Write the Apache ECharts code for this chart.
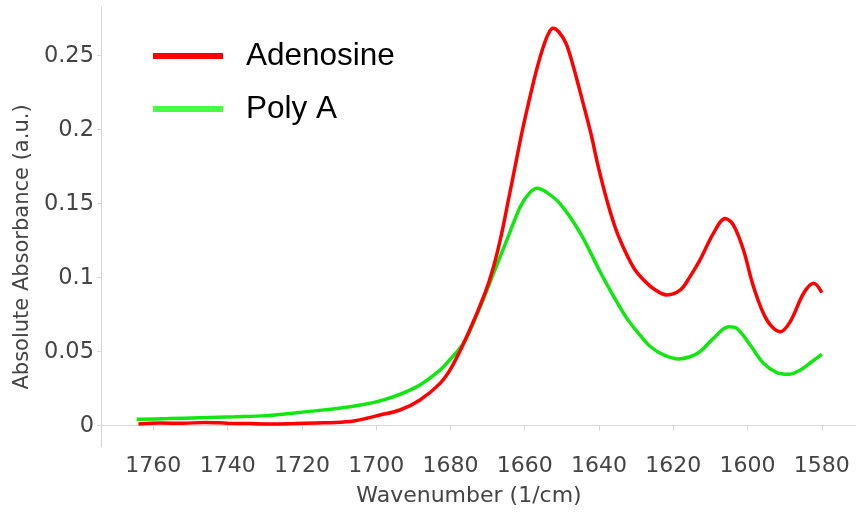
<!DOCTYPE html>
<html>
<head>
<meta charset="utf-8">
<script src="https://cdn.jsdelivr.net/npm/echarts@6/dist/echarts.min.js"></script>
<style>
html,body{margin:0;padding:0;background:#fff;}
#chart{width:856px;height:515px;}
</style>
</head>
<body>
<div id="chart"></div>
<script>
// Wavenumber (1/cm) and absorbance values
const seriesNames = ['Adenosine', 'Poly A'];
const adenosineWn = [1764, 1758, 1752, 1746, 1740, 1734, 1728, 1722, 1716, 1711, 1706, 1702.5, 1699, 1693.6, 1688.2, 1682.8, 1679.6, 1675.2, 1670.7, 1668.4, 1666.2, 1664.4, 1662.6, 1660.8, 1658.7, 1656.7, 1655.0, 1653.6, 1652.4, 1650.8, 1648.9, 1646.9, 1644.5, 1642.2, 1640.2, 1637.9, 1635.5, 1633.0, 1630.5, 1628.0, 1625.3, 1621.7, 1618.1, 1615.5, 1612.8, 1609.2, 1606.0, 1603.8, 1601.1, 1598.4, 1594.8, 1591.2, 1588.5, 1584.9, 1582.2, 1580.0];
const adenosineAbs = [0.0012, 0.0018, 0.0016, 0.0022, 0.0017, 0.0014, 0.0012, 0.0015, 0.0019, 0.0022, 0.0032, 0.0050, 0.0072, 0.0106, 0.0174, 0.0286, 0.0399, 0.0624, 0.0895, 0.1074, 0.1300, 0.1525, 0.1750, 0.1976, 0.2210, 0.2415, 0.2560, 0.2650, 0.2685, 0.2660, 0.2584, 0.2426, 0.2200, 0.1976, 0.1750, 0.1525, 0.1330, 0.1180, 0.1060, 0.0985, 0.0925, 0.0883, 0.0917, 0.1007, 0.1120, 0.1300, 0.1400, 0.1356, 0.1187, 0.0939, 0.0714, 0.0635, 0.0703, 0.0895, 0.0962, 0.0899];
const polyAWn = [1764.5, 1756, 1747.4, 1738, 1729.5, 1718.7, 1707, 1698, 1689, 1682.8, 1681, 1676.5, 1672, 1668.4, 1664.8, 1661.2, 1658.8, 1656.6, 1654.0, 1650.5, 1645, 1639.7, 1636.1, 1632.5, 1628.9, 1626.2, 1622.6, 1618.6, 1615.5, 1612.8, 1609.2, 1605.1, 1602.9, 1599.3, 1595.7, 1592.1, 1589.0, 1585.8, 1582.7, 1580.0];
const polyAAbs = [0.0043, 0.0048, 0.0054, 0.0060, 0.0068, 0.0095, 0.0128, 0.0174, 0.0264, 0.0376, 0.0422, 0.0557, 0.0804, 0.1030, 0.1255, 0.1480, 0.1570, 0.1604, 0.1575, 0.1500, 0.1300, 0.1040, 0.0875, 0.0725, 0.0610, 0.0535, 0.0478, 0.0451, 0.0466, 0.0500, 0.0590, 0.0669, 0.0658, 0.0545, 0.0422, 0.0358, 0.0347, 0.0376, 0.0432, 0.0484];
const xTickValues = [1760, 1740, 1720, 1700, 1680, 1660, 1640, 1620, 1600, 1580];
const yTickValues = [0, 0.05, 0.1, 0.15, 0.2, 0.25];
const yTickLabels = ['0', '0.05', '0.1', '0.15', '0.2', '0.25'];

const zip = (a, b) => a.map((v, i) => [v, b[i]]);

const chart = echarts.init(document.getElementById('chart'), null, {renderer: 'canvas'});
const labelColor = '#444';
const axisGray = '#d6d6d6';
chart.setOption({
  animation: false,
  backgroundColor: '#fff',
  grid: {left: 101, top: 7, right: 0, bottom: 68, containLabel: false, outerBoundsMode: 'none'},
  legend: {
    orient: 'vertical',
    left: 153,
    top: 40,
    padding: 0,
    itemWidth: 70,
    itemHeight: 6,
    itemGap: 21,
    icon: 'rect',
    textStyle: {fontFamily: 'Liberation Sans', fontSize: 31.5, color: '#000', padding: [0, 0, 0, 18], lineHeight: 32},
    data: [
      {name: seriesNames[0], itemStyle: {color: '#ff0000'}},
      {name: seriesNames[1], itemStyle: {color: '#44ff44'}}
    ]
  },
  xAxis: {
    type: 'value',
    inverse: true,
    min: 1570.8,
    max: 1774.1,
    name: 'Wavenumber (1/cm)',
    nameLocation: 'middle',
    nameGap: 38,
    nameTextStyle: {fontFamily: 'DejaVu Sans', fontSize: 22, color: labelColor, padding: [0, 19, 0, 0]},
    axisLine: {show: true, lineStyle: {color: axisGray, width: 1}},
    axisTick: {show: true, length: 5, lineStyle: {color: axisGray}, customValues: xTickValues},
    axisLabel: {fontFamily: 'DejaVu Sans', fontSize: 22, color: labelColor, margin: 8, customValues: xTickValues, formatter: (v) => String(v)},
    splitLine: {show: false}
  },
  yAxis: {
    type: 'value',
    min: -0.0144,
    max: 0.2829,
    name: 'Absolute Absorbance (a.u.)',
    nameLocation: 'middle',
    nameGap: 63,
    nameTextStyle: {fontFamily: 'DejaVu Sans', fontSize: 21, color: labelColor, padding: [0, 40, 0, 0]},
    axisLine: {show: true, lineStyle: {color: axisGray, width: 1}},
    axisTick: {show: true, length: 4, lineStyle: {color: axisGray}, customValues: yTickValues},
    axisLabel: {
      fontFamily: 'DejaVu Sans', fontSize: 22.5, color: labelColor, margin: 7,
      customValues: yTickValues,
      formatter: (v) => { const i = yTickValues.findIndex(t => Math.abs(t - v) < 1e-9); return i >= 0 ? yTickLabels[i] : ''; }
    },
    splitLine: {show: false}
  },
  series: [
    {
      name: seriesNames[0], type: 'line', data: zip(adenosineWn, adenosineAbs),
      smooth: 0.35, showSymbol: false, z: 3,
      lineStyle: {color: '#ff0000', width: 3.5}, itemStyle: {color: '#ff0000'}
    },
    {
      name: seriesNames[1], type: 'line', data: zip(polyAWn, polyAAbs),
      smooth: 0.35, showSymbol: false, z: 2,
      lineStyle: {color: '#11e611', width: 3.5}, itemStyle: {color: '#44ff44'}
    }
  ]
});
</script>
</body>
</html>
